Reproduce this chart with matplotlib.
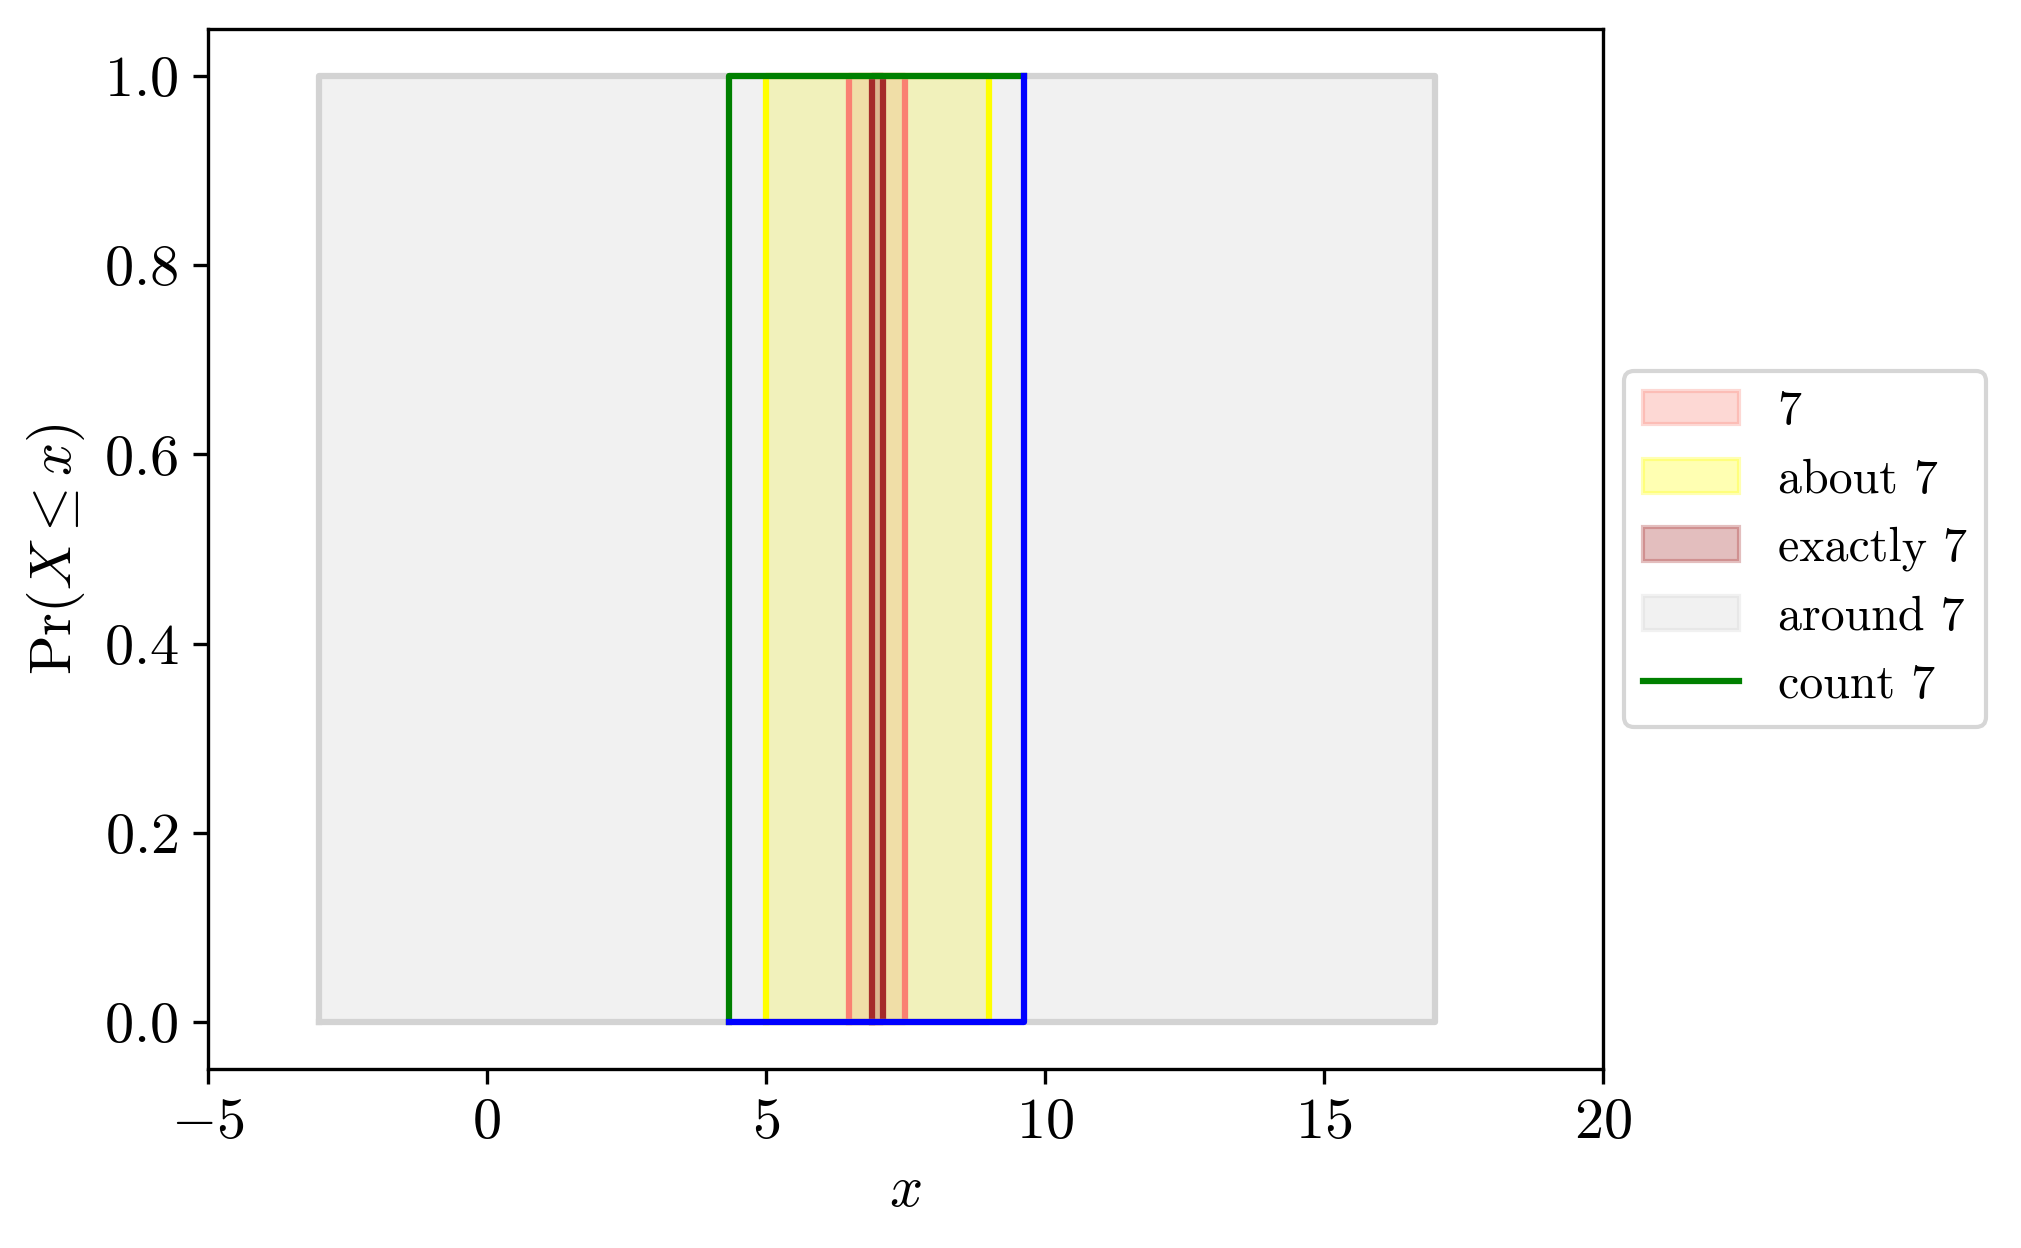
import matplotlib
matplotlib.use("Agg")
import matplotlib.pyplot as plt

plt.rcParams["font.family"] = "serif"
plt.rcParams["font.serif"] = ["cmr10"]
plt.rcParams["mathtext.fontset"] = "cm"
plt.rcParams["axes.formatter.use_mathtext"] = True
plt.rcParams["axes.unicode_minus"] = True

# intervals (lower, upper) for each description of "seven"
labels = ["7", "about 7", "exactly 7", "around 7"]
lows = [6.5, 5.0, 6.9, -3.0]
highs = [7.5, 9.0, 7.1, 17.0]
colors = ["salmon", "yellow", "brown", "lightgray"]

# bounds of the "count 7" box
count_low = 4.35
count_high = 9.63

fig = plt.figure(figsize=(2021 / 300, 1248 / 300), dpi=300)
ax = fig.add_axes([0.1027, 0.1434, 0.6903, 0.8334])

for lo, hi, c, lab in zip(lows, highs, colors, labels):
    ax.fill_between([lo, hi], [0, 0], [1, 1], color=c, alpha=0.3, label=lab)
    ax.plot([lo, lo, hi, hi, lo], [0, 1, 1, 0, 0], color=c, lw=1.5)

ax.plot([count_low, count_low, count_high], [0, 1, 1], color="green", lw=1.5, label="count 7")
ax.plot([count_low, count_high, count_high], [0, 0, 1], color="blue", lw=1.5)

ax.set_xlim(-5, 20)
ax.set_xticks([-5, 0, 5, 10, 15, 20])
ax.set_yticks([0.0, 0.2, 0.4, 0.6, 0.8, 1.0])
ax.tick_params(labelsize=14)
ax.set_xlabel("$x$", fontsize=14)
ax.set_ylabel(r"$\mathrm{Pr}(X \leq x)$", fontsize=14)

ax.legend(loc="center left", bbox_to_anchor=(1.0, 0.5), fontsize=11.5,
          borderaxespad=0.45)

fig.savefig("out.png", dpi=300)
